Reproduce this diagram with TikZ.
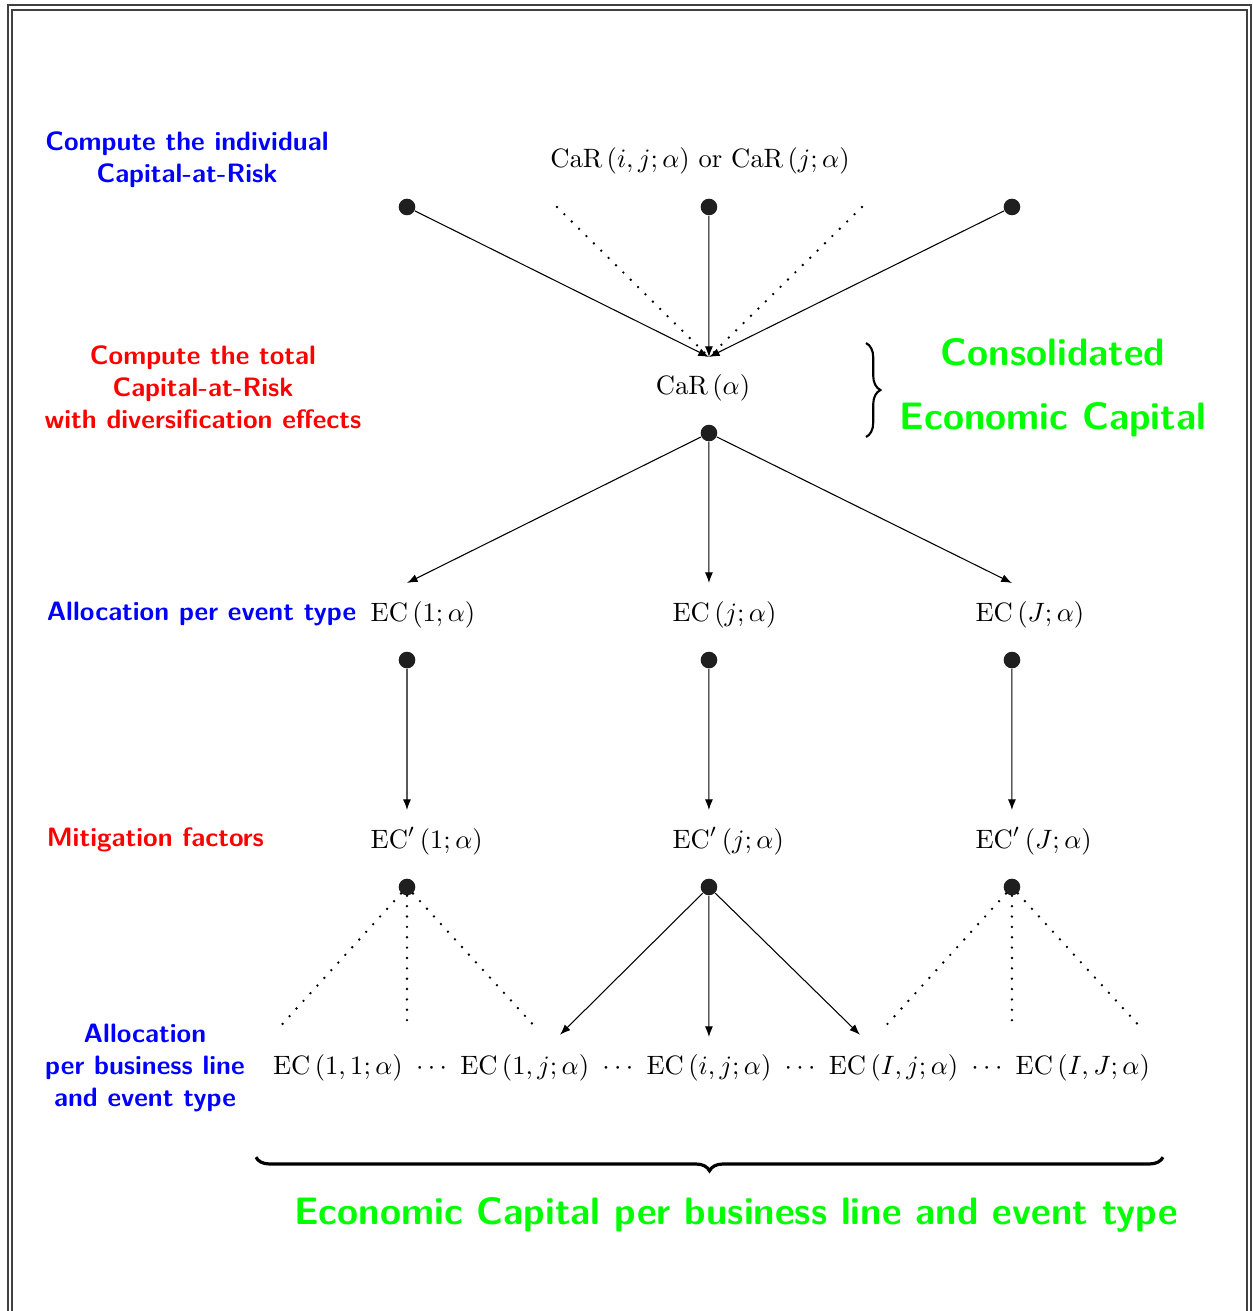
\documentclass[tikz,border=0pt]{standalone}
\usepackage{amsmath, amssymb}
\usepackage{xcolor}
\usepackage{tikz}
\usetikzlibrary{arrows.meta, decorations.pathreplacing}

\tikzset{
	bullet/.style={circle, fill=black!88, inner sep=0pt, minimum size=0.22cm},
	link/.style={-{Latex[length=4pt, width=3pt]}, thin},
	dotline/.style={line width=1pt, line cap=round, dash pattern=on 0pt off 3.9pt},
	bluetxt/.style={text=blue, font=\sffamily\bfseries, align=center},
	redtxt/.style={text=red, font=\sffamily\bfseries, align=center},
	greentxt/.style={text=green, font=\Large\sffamily\bfseries},
	framebox/.style={draw=black!75, line width=0.6pt}
}

\begin{document}
\begin{tikzpicture}[scale=0.975]
		\useasboundingbox (0,0) rectangle (17,-17.787);
		% frame
		\draw[framebox] (0.109,-0.068) rectangle (16.973,-17.9);
		\draw[framebox] (0.163,-0.136) rectangle (16.919,-17.80);
		% individual capital-at-risk
		\node[bullet] (c1) at (5.522,-2.808) {};
		\node[bullet] (c2) at (9.619,-2.808) {};
		\node[bullet] (c3) at (13.730,-2.808) {};
		\coordinate (cl) at (7.557,-2.808);
		\coordinate (cr) at (11.695,-2.808);
		\node (carij) at (9.497,-2.184) {$\mathrm{CaR}\left(i,j;\alpha\right)$ or $\mathrm{CaR}\left(j;\alpha\right)$};
		% total capital-at-risk
		\coordinate (cartop) at (9.619,-4.844);
		\node (car) at (9.538,-5.264) {$\mathrm{CaR}\left(\alpha\right)$};
		\node[bullet] (d0) at (9.619,-5.875) {};
		\draw[link] (c1) -- (cartop);
		\draw[link] (c2) -- (cartop);
		\draw[link] (c3) -- (cartop);
		\draw[dotline] (cl) -- (cartop);
		\draw[dotline] (cr) -- (cartop);
		% allocation per event type
		\coordinate (e1top) at (5.522,-7.910);
		\coordinate (e2top) at (9.619,-7.910);
		\coordinate (e3top) at (13.730,-7.910);
		\node[anchor=west] (ec1) at (4.902,-8.344) {$\mathrm{EC}\left(1;\alpha\right)$};
		\node[anchor=west] (ec2) at (8.999,-8.344) {$\mathrm{EC}\left(j;\alpha\right)$};
		\node[anchor=west] (ec3) at (13.110,-8.344) {$\mathrm{EC}\left(J;\alpha\right)$};
		\node[bullet] (e1) at (5.522,-8.955) {};
		\node[bullet] (e2) at (9.619,-8.955) {};
		\node[bullet] (e3) at (13.730,-8.955) {};
		\draw[link] (d0) -- (e1top);
		\draw[link] (d0) -- (e2top);
		\draw[link] (d0) -- (e3top);
		% mitigation
		\coordinate (m1top) at (5.522,-10.990);
		\coordinate (m2top) at (9.619,-10.990);
		\coordinate (m3top) at (13.730,-10.990);
		\node[anchor=west] (mc1) at (4.902,-11.410) {$\mathrm{EC}'\left(1;\alpha\right)$};
		\node[anchor=west] (mc2) at (8.999,-11.410) {$\mathrm{EC}'\left(j;\alpha\right)$};
		\node[anchor=west] (mc3) at (13.110,-11.410) {$\mathrm{EC}'\left(J;\alpha\right)$};
		\node[bullet] (m1) at (5.522,-12.034) {};
		\node[bullet] (m2) at (9.619,-12.034) {};
		\node[bullet] (m3) at (13.730,-12.034) {};
		\draw[link] (e1) -- (m1top);
		\draw[link] (e2) -- (m2top);
		\draw[link] (e3) -- (m3top);
		% allocation per business line and event type
		\coordinate (b1) at (3.758,-13.975);
		\coordinate (b2) at (5.522,-13.975);
		\coordinate (b3) at (7.299,-13.975);
		\coordinate (b4) at (7.598,-14.040);
		\coordinate (b5) at (9.619,-14.070);
		\coordinate (b6) at (11.668,-14.040);
		\coordinate (b7) at (11.966,-13.975);
		\coordinate (b8) at (13.730,-13.975);
		\coordinate (b9) at (15.508,-13.975);
		\draw[dotline] (m1) -- (b1);
		\draw[dotline] (m1) -- (b2);
		\draw[dotline] (m1) -- (b3);
		\draw[link] (m2) -- (b4);
		\draw[link] (m2) -- (b5);
		\draw[link] (m2) -- (b6);
		\draw[dotline] (m3) -- (b7);
		\draw[dotline] (m3) -- (b8);
		\draw[dotline] (m3) -- (b9);
		\node (ecall) at (9.653,-14.490) {$\mathrm{EC}\left(1,1;\alpha\right)\ \cdots\ \mathrm{EC}\left(1,j;\alpha\right)\ \cdots\ \mathrm{EC}\left(i,j;\alpha\right)\ \cdots\ \mathrm{EC}\left(I,j;\alpha\right)\ \cdots\ \mathrm{EC}\left(I,J;\alpha\right)$};
		% braces
		\draw[decorate, decoration={brace, amplitude=0.19cm}, line width=0.8pt] (11.75,-4.654) -- (11.75,-5.929);
		\draw[decorate, decoration={brace, amplitude=0.18cm}, line width=1.2pt] (15.779,-15.70) -- (3.473,-15.70);
		% annotations
		\node[bluetxt] (l1) at (2.537,-2.171) {Compute the individual\\Capital-at-Risk};
		\node[redtxt] (l2) at (2.754,-5.251) {Compute the total\\Capital-at-Risk\\with diversification effects};
		\node[bluetxt, anchor=west] (l3) at (0.507,-8.330) {Allocation per event type};
		\node[redtxt, anchor=west] (l4) at (0.507,-11.397) {Mitigation factors};
		\node[bluetxt] (l5) at (1.967,-14.490) {Allocation\\per business line\\and event type};
		\node[greentxt] (cons) at (14.287,-4.776) {Consolidated};
		\node[greentxt] (econ) at (14.287,-5.698) {Economic Capital};
		\node[greentxt] (ecbl) at (9.986,-16.484) {Economic Capital per business line and event type};
	\end{tikzpicture}
\end{document}
